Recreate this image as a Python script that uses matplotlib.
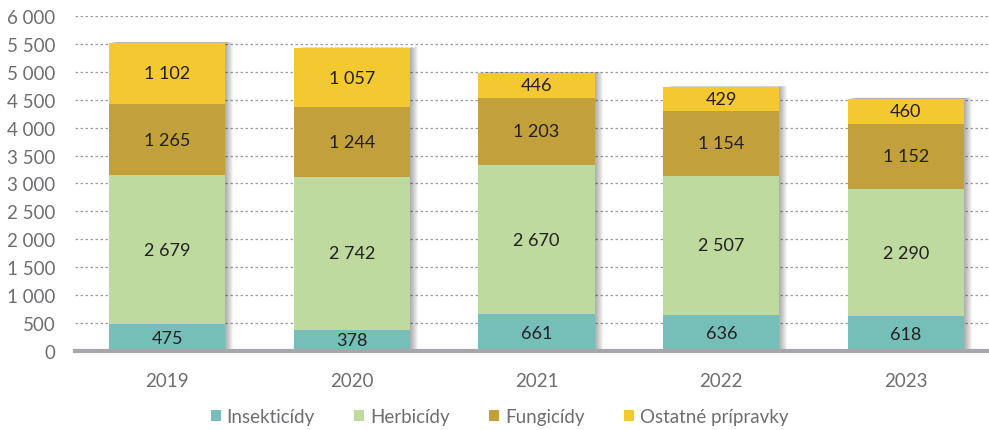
import matplotlib.pyplot as plt
import matplotlib.transforms as mtransforms
import numpy as np

plt.rcParams['font.family'] = ['Lato', 'DejaVu Sans']

roky = ['2019', '2020', '2021', '2022', '2023']
insekticidy = [475, 378, 661, 636, 618]
herbicidy = [2679, 2742, 2670, 2507, 2290]
fungicidy = [1265, 1244, 1203, 1154, 1152]
ostatne = [1102, 1057, 446, 429, 460]

nazvy = ['Insekticídy', 'Herbicídy', 'Fungicídy', 'Ostatné prípravky']
farby = ['#76bfb9', '#bfda9f', '#c2a03b', '#f3c830']
serie = [insekticidy, herbicidy, fungicidy, ostatne]

def medzera(v):
    return f"{v:,}".replace(",", " ")

fig = plt.figure(figsize=(9.89, 4.31), dpi=100)
ax = fig.add_axes([0.0758, 0.1833, 0.9242, 0.7773])

x = np.arange(len(roky))
sirka = 0.63
spolu = np.sum(serie, axis=0)

# tien napravo od stlpcov
for i in range(1, 9):
    posun = mtransforms.offset_copy(ax.transData, fig=fig, x=i, y=i * 0.15, units='dots')
    ax.bar(x, spolu, sirka, color='black', alpha=0.045, transform=posun, zorder=1, linewidth=0)

spodok = np.zeros(len(roky))
for hodnoty, nazov, farba in zip(serie, nazvy, farby):
    ax.bar(x, hodnoty, sirka, bottom=spodok, color=farba, label=nazov, zorder=2, linewidth=0)
    for xi, b, h in zip(x, spodok, hodnoty):
        ax.text(xi, b + h / 2, medzera(h), ha='center', va='center',
                fontsize=13, color='#231f20', zorder=3)
    spodok = spodok + np.array(hodnoty)

ax.set_xlim(-0.5, 4.45)
ax.set_ylim(0, 6000)
ax.set_yticks(np.arange(0, 6001, 500))
ax.set_yticklabels([medzera(v) for v in range(0, 6001, 500)])
ax.set_xticks(x)
ax.set_xticklabels(roky)
ax.tick_params(axis='both', length=0, labelsize=13.5, colors='#6d6e71')
ax.tick_params(axis='x', pad=15)
ax.tick_params(axis='y', pad=14)

ax.grid(axis='y', linestyle=(0, (2, 2)), color='#9d9d9d', linewidth=0.9, zorder=0)
ax.set_axisbelow(True)
for s in ['top', 'right', 'left']:
    ax.spines[s].set_visible(False)
ax.spines['bottom'].set_color('#a7a7ab')
ax.spines['bottom'].set_linewidth(3)
ax.spines['bottom'].set_zorder(4)

fig.legend(loc='lower center', bbox_to_anchor=(0.505, -0.028), ncol=4, frameon=False,
           handlelength=0.55, handleheight=0.55, handletextpad=0.3, columnspacing=2.1,
           fontsize=13.5, labelcolor='#6d6e71')

fig.savefig('out.png', dpi=100)
